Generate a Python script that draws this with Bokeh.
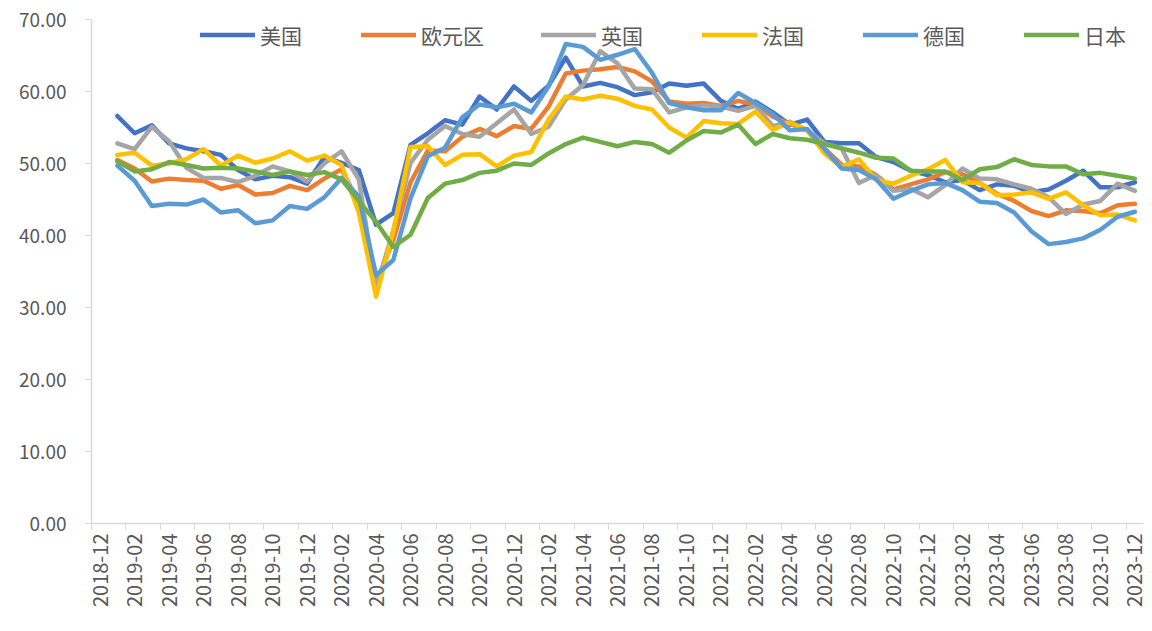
from bokeh.plotting import figure
from bokeh.models import Range1d, FixedTicker, PrintfTickFormatter, Legend, LegendItem, ColumnDataSource
from bokeh.embed import file_html
from bokeh.resources import INLINE

months = [
    "2018-12",
    "2019-01", "2019-02", "2019-03", "2019-04", "2019-05", "2019-06",
    "2019-07", "2019-08", "2019-09", "2019-10", "2019-11", "2019-12",
    "2020-01", "2020-02", "2020-03", "2020-04", "2020-05", "2020-06",
    "2020-07", "2020-08", "2020-09", "2020-10", "2020-11", "2020-12",
    "2021-01", "2021-02", "2021-03", "2021-04", "2021-05", "2021-06",
    "2021-07", "2021-08", "2021-09", "2021-10", "2021-11", "2021-12",
    "2022-01", "2022-02", "2022-03", "2022-04", "2022-05", "2022-06",
    "2022-07", "2022-08", "2022-09", "2022-10", "2022-11", "2022-12",
    "2023-01", "2023-02", "2023-03", "2023-04", "2023-05", "2023-06",
    "2023-07", "2023-08", "2023-09", "2023-10", "2023-11", "2023-12",
]
dates = months[1:]

us = [56.6, 54.2, 55.3, 52.8, 52.1, 51.7, 51.2, 49.1, 47.8, 48.3, 48.1, 47.2,
      50.9, 50.1, 49.1, 41.5, 43.1, 52.6, 54.2, 56.0, 55.4, 59.3, 57.5, 60.7,
      58.7, 60.8, 64.7, 60.7, 61.2, 60.6, 59.5, 59.9, 61.1, 60.8, 61.1, 58.7,
      57.6, 58.6, 57.1, 55.4, 56.1, 53.0, 52.8, 52.8, 50.9, 50.2, 49.0, 48.4,
      47.4, 47.7, 46.3, 47.1, 46.9, 46.0, 46.4, 47.6, 49.0, 46.7, 46.7, 47.4]
euro = [50.5, 49.3, 47.5, 47.9, 47.7, 47.6, 46.5, 47.0, 45.7, 45.9, 46.9, 46.3,
        47.9, 49.2, 44.5, 33.4, 39.4, 47.4, 51.8, 51.7, 53.7, 54.8, 53.8, 55.2,
        54.8, 57.9, 62.5, 62.9, 63.1, 63.4, 62.8, 61.4, 58.6, 58.3, 58.4, 58.0,
        58.7, 58.2, 56.5, 55.5, 54.6, 52.1, 49.8, 49.6, 48.4, 46.4, 47.1, 47.8,
        48.8, 48.5, 47.3, 45.8, 44.8, 43.4, 42.7, 43.5, 43.4, 43.1, 44.2, 44.4]
uk = [52.8, 52.0, 55.1, 53.1, 49.4, 48.0, 48.0, 47.4, 48.3, 49.6, 48.9, 47.5,
      50.0, 51.7, 47.8, 32.6, 40.7, 50.1, 53.3, 55.2, 54.1, 53.7, 55.6, 57.5,
      54.1, 55.1, 58.9, 60.9, 65.6, 63.9, 60.4, 60.3, 57.1, 57.8, 58.1, 57.9,
      57.3, 58.0, 55.2, 55.8, 54.6, 52.8, 52.1, 47.3, 48.4, 46.2, 46.5, 45.3,
      47.0, 49.3, 47.9, 47.8, 47.1, 46.5, 45.3, 43.0, 44.3, 44.8, 47.2, 46.2]
france = [51.2, 51.5, 49.7, 50.0, 50.6, 52.0, 49.7, 51.1, 50.1, 50.7, 51.7, 50.4,
          51.1, 49.8, 43.2, 31.5, 40.6, 52.3, 52.4, 49.8, 51.2, 51.3, 49.6, 51.1,
          51.6, 56.1, 59.3, 58.9, 59.4, 59.0, 58.0, 57.5, 55.0, 53.6, 55.9, 55.6,
          55.5, 57.2, 54.7, 55.7, 54.6, 51.4, 49.5, 50.6, 47.7, 47.2, 48.3, 49.2,
          50.5, 47.4, 47.3, 45.6, 45.7, 46.0, 45.1, 46.0, 44.2, 42.8, 42.9, 42.1]
germany = [49.7, 47.6, 44.1, 44.4, 44.3, 45.0, 43.2, 43.5, 41.7, 42.1, 44.1, 43.7,
           45.3, 48.0, 45.4, 34.5, 36.6, 45.2, 51.0, 52.2, 56.4, 58.2, 57.8, 58.3,
           57.1, 60.7, 66.6, 66.2, 64.4, 65.1, 65.9, 62.6, 58.4, 57.8, 57.4, 57.4,
           59.8, 58.4, 56.9, 54.6, 54.8, 52.0, 49.3, 49.1, 47.8, 45.1, 46.2, 47.1,
           47.3, 46.3, 44.7, 44.5, 43.2, 40.6, 38.8, 39.1, 39.6, 40.8, 42.6, 43.3]
japan = [50.3, 48.9, 49.2, 50.2, 49.8, 49.3, 49.4, 49.3, 48.9, 48.4, 48.9, 48.4,
         48.8, 47.8, 44.8, 41.9, 38.4, 40.1, 45.2, 47.2, 47.7, 48.7, 49.0, 50.0,
         49.8, 51.4, 52.7, 53.6, 53.0, 52.4, 53.0, 52.7, 51.5, 53.2, 54.5, 54.3,
         55.4, 52.7, 54.1, 53.5, 53.3, 52.7, 52.1, 51.5, 50.8, 50.7, 49.0, 48.9,
         48.9, 47.7, 49.2, 49.5, 50.6, 49.8, 49.6, 49.6, 48.5, 48.7, 48.3, 47.9]

series_names = ["美国", "欧元区", "英国", "法国", "德国", "日本"]
series_values = [us, euro, uk, france, germany, japan]
colors = ["#4472C4", "#ED7D31", "#A5A5A5", "#FFC000", "#5B9BD5", "#70AD47"]
y_ticks = [0, 10, 20, 30, 40, 50, 60, 70]

TEXT = "#595959"
AXIS = "#D9D9D9"
FONT = "Noto Sans CJK SC"

p = figure(width=1150, height=628, output_backend="svg", toolbar_location=None,
           x_range=Range1d(-0.5, len(months) - 0.5), y_range=Range1d(0, 70),
           min_border_left=91, min_border_right=7, min_border_top=19, min_border_bottom=105)
p.outline_line_color = None
p.xgrid.visible = False
p.ygrid.visible = False
p.background_fill_color = "white"
p.border_fill_color = "white"

idx = {m: i for i, m in enumerate(months)}
xs = [idx[d] for d in dates]

items = []
for name, vals, col in zip(series_names, series_values, colors):
    src = ColumnDataSource(dict(x=xs, y=vals))
    r = p.line("x", "y", source=src, line_color=col, line_width=4.5,
               line_join="round", line_cap="round")
    items.append(LegendItem(label=name, renderers=[r]))

# x axis
label_pos = list(range(0, len(months), 2))
p.xaxis.ticker = FixedTicker(ticks=label_pos,
                             minor_ticks=[i - 0.5 for i in range(0, len(months), 2)])
p.xaxis.major_label_overrides = {i: months[i] for i in label_pos}
p.xaxis.major_label_orientation = 3.14159265 / 2
p.xaxis.major_tick_line_color = None
p.xaxis.major_tick_out = 6
p.xaxis.major_tick_in = 0
p.xaxis.minor_tick_line_color = AXIS
p.xaxis.minor_tick_line_width = 1
p.xaxis.minor_tick_out = 6
p.xaxis.minor_tick_in = 0
p.xaxis.axis_line_color = AXIS
p.xaxis.axis_line_width = 1.5
p.xaxis.major_label_text_color = TEXT
p.xaxis.major_label_text_font = FONT
p.xaxis.major_label_text_font_size = "20px"
p.xaxis.major_label_standoff = 4

# y axis
p.yaxis.ticker = FixedTicker(ticks=y_ticks)
p.yaxis.formatter = PrintfTickFormatter(format="%.2f")
p.yaxis.axis_line_color = AXIS
p.yaxis.axis_line_width = 1.5
p.yaxis.major_tick_line_color = AXIS
p.yaxis.major_tick_out = 7
p.yaxis.major_tick_in = 0
p.yaxis.minor_tick_line_color = None
p.yaxis.major_label_text_color = TEXT
p.yaxis.major_label_text_font = FONT
p.yaxis.major_label_text_font_size = "19px"
p.yaxis.major_label_standoff = 18

legend = Legend(items=items, orientation="horizontal", location=(109, 473),
                glyph_width=55, glyph_height=31, label_height=31, label_width=44,
                label_standoff=5, spacing=57, padding=0, margin=0,
                border_line_color=None, background_fill_alpha=0,
                label_text_baseline="middle",
                label_text_font=FONT, label_text_font_size="21px", label_text_color=TEXT)
p.add_layout(legend, "center")

open("out.html", "w").write(file_html(p, INLINE))
